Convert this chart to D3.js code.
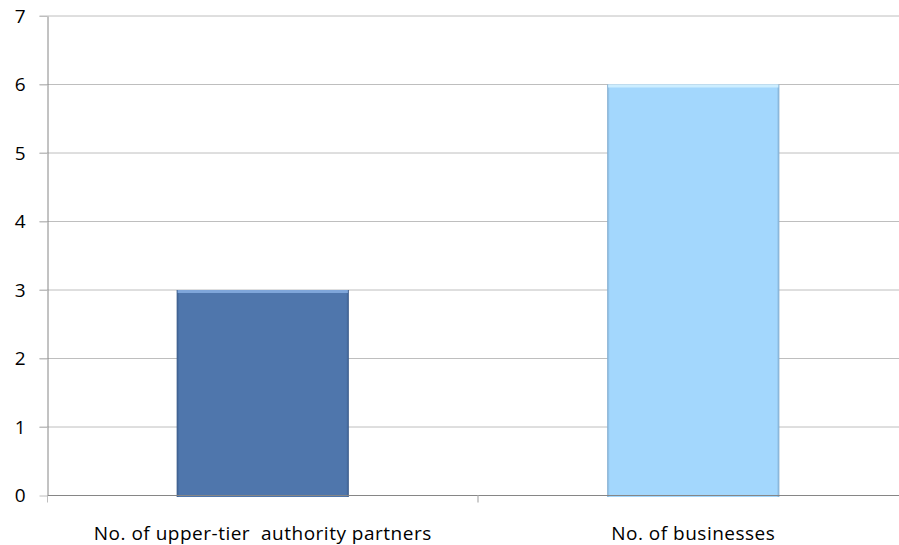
<!DOCTYPE html>
<html><head><meta charset="utf-8">
<script src="https://cdn.jsdelivr.net/npm/d3@7"></script>
<style>body{margin:0;background:#fff}svg{display:block}text{font-family:"Open Sans",Lato,sans-serif;fill:#000}</style>
</head><body><svg id="c" width="899" height="545"></svg>
<script>
const categories = ["No. of upper-tier  authority partners", "No. of businesses"];
const values = [3, 6];
const barColors = ["#4F76AC", "#A3D7FD"];
const edgeColors = ["#3A5A88", "#7FA9CC"];
const topColors = ["#7FA6DA", "#CDEEFF"];
const yTicks = [0,1,2,3,4,5,6,7];

const svg = d3.select("#c");
const mLeft = 47.5, mBottom = 495.5, mTop = 16, mRight = 908.5;
const x = d3.scaleBand().domain(categories).range([mLeft, mRight]).paddingInner(0).paddingOuter(0);
const y = d3.scaleLinear().domain([0,7]).range([mBottom, mTop]);
const bw = x.bandwidth()/2.5;

// gridlines
svg.append("g").selectAll("line").data(yTicks.filter(d=>d>0)).join("line")
  .attr("x1", mLeft-8).attr("x2", 899).attr("y1", d=>y(d)).attr("y2", d=>y(d))
  .attr("stroke", "#BEBEBE").attr("stroke-width", 1);

// y axis
const yAxis = d3.axisLeft(y).tickValues(yTicks).tickSize(8).tickSizeOuter(0).tickPadding(14).tickFormat(d3.format("d"));
const ga = svg.append("g").attr("transform", `translate(${mLeft},0)`).call(yAxis);
ga.select(".domain").attr("stroke", "#868686");
ga.selectAll(".tick line").attr("stroke", "#BEBEBE");
ga.selectAll(".tick text").attr("font-size", 19).attr("font-family", "'Open Sans', Lato, sans-serif").attr("fill","#000");

// bars
const defs = svg.append("defs");
categories.forEach((c,i)=>{
  const g = defs.append("linearGradient").attr("id","g"+i).attr("x1","0").attr("x2","1").attr("y1","0").attr("y2","0");
  g.append("stop").attr("offset","0").attr("stop-color", edgeColors[i]);
  g.append("stop").attr("offset","0.015").attr("stop-color", barColors[i]);
  g.append("stop").attr("offset","0.985").attr("stop-color", barColors[i]);
  g.append("stop").attr("offset","1").attr("stop-color", edgeColors[i]);
});
const bars = svg.append("g").selectAll("g").data(categories).join("g");
bars.append("rect")
  .attr("x", (d)=>x(d)+x.bandwidth()/2-bw/2)
  .attr("y", (d,i)=>y(values[i]))
  .attr("width", bw)
  .attr("height", (d,i)=>y(0)-y(values[i])+1.5)
  .attr("fill", (d,i)=>`url(#g${i})`);
bars.append("rect")
  .attr("x", (d)=>x(d)+x.bandwidth()/2-bw/2+1)
  .attr("y", (d,i)=>y(values[i]))
  .attr("width", bw-2)
  .attr("height", 3)
  .attr("fill", (d,i)=>topColors[i]);

// x axis
svg.append("line").attr("x1", mLeft).attr("x2", 899).attr("y1", mBottom).attr("y2", mBottom).attr("stroke", "#868686");
svg.append("g").selectAll("line").data(categories.slice(1)).join("line")
  .attr("x1", d=>x(d)).attr("x2", d=>x(d)).attr("y1", mBottom).attr("y2", mBottom+7)
  .attr("stroke","#BEBEBE").attr("stroke-width",1.5);
svg.append("line").attr("x1", mLeft).attr("x2", mLeft).attr("y1", mBottom).attr("y2", mBottom+7).attr("stroke","#BEBEBE");

svg.append("g").selectAll("text").data(categories).join("text")
  .attr("x", d=>x(d)+x.bandwidth()/2).attr("y", 540)
  .attr("text-anchor","middle").attr("font-size",19).attr("letter-spacing",0.5).style("white-space","pre").text(d=>d);
</script></body></html>
